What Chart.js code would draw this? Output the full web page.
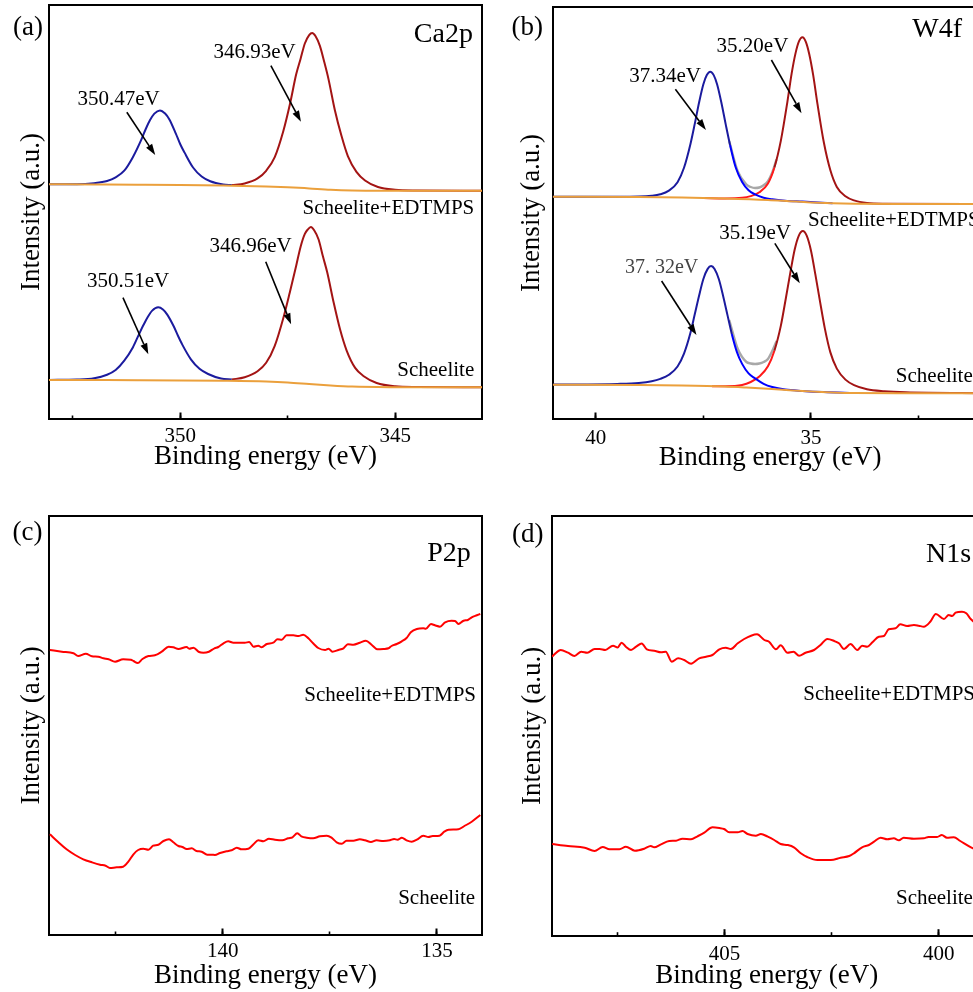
<!DOCTYPE html>
<html><head><meta charset="utf-8">
<script src="https://cdn.jsdelivr.net/npm/chart.js@4.4.1/dist/chart.umd.min.js"></script>
<style>
html,body{margin:0;padding:0;background:#fff;overflow:hidden;width:973px;height:992px;position:relative;}
canvas{position:absolute;}
</style></head><body>
<canvas id="ca" width="490" height="480" style="left:0;top:0;width:490px;height:480px"></canvas>
<canvas id="w" width="500" height="480" style="left:490px;top:0;width:500px;height:480px"></canvas>
<canvas id="p" width="490" height="502" style="left:0;top:490px;width:490px;height:502px"></canvas>
<canvas id="n" width="500" height="502" style="left:490px;top:490px;width:500px;height:502px"></canvas>
<script>
// ---------------- DATA (binding energy in eV, intensity in arbitrary units) ----------------
// (a) Ca2p  -- Scheelite+EDTMPS (top)
const caTopBaseE = [353.05, 352, 351, 350, 349, 348, 347.5, 347, 346.5, 346, 345, 344, 342.98];
const caTopBaseI = [234.7, 234.5, 234.3, 234.0, 233.4, 232.6, 231.8, 230.6, 229.3, 228.6, 228.3, 228.2, 228.2];
const caTopBlueE = [353.05, 352.4, 352.0, 351.7, 351.5, 351.3, 351.1, 350.9, 350.8, 350.7, 350.6, 350.47, 350.35, 350.25, 350.1, 350.0, 349.9, 349.7, 349.5, 349.3, 349.0, 348.8];
const caTopBlueI = [234.8, 234.7, 235.8, 238.0, 241.7, 248.3, 261.8, 279.6, 290.0, 298.9, 305.4, 308.6, 305.5, 299.6, 285.4, 275.0, 266.6, 251.5, 242.5, 237.8, 234.6, 233.9];
const caTopRedE = [348.8, 348.5, 348.2, 348.0, 347.8, 347.6, 347.45, 347.3, 347.2, 347.1, 347.0, 346.93, 346.85, 346.75, 346.65, 346.55, 346.4, 346.25, 346.1, 345.9, 345.7, 345.4, 345.0, 344.5, 342.98];
const caTopRedI = [233.9, 235.5, 240.6, 248.2, 261.9, 288.0, 314.2, 344.9, 360.1, 375.5, 383.9, 386.0, 382.7, 373.1, 357.2, 339.9, 308.5, 283.4, 262.9, 247.2, 238.5, 232.0, 229.2, 228.5, 228.2];
// (a) Ca2p  -- Scheelite (bottom)
const caBotBaseE = [353.05, 352, 351, 350, 349, 348, 347.5, 347, 346.5, 346, 345, 344, 342.98];
const caBotBaseI = [39.0, 38.9, 38.8, 38.6, 38.2, 37.4, 36.5, 35.0, 33.5, 32.4, 31.8, 31.7, 31.7];
const caBotBlueE = [353.05, 352.4, 352.0, 351.7, 351.5, 351.3, 351.1, 350.95, 350.85, 350.75, 350.65, 350.51, 350.4, 350.3, 350.15, 350.05, 349.95, 349.75, 349.55, 349.35, 349.05, 348.8];
const caBotBlueI = [39.1, 39.5, 40.8, 44.3, 49.0, 58.4, 71.6, 85.4, 94.2, 102.2, 108.4, 111.7, 109.5, 104.4, 92.7, 83.2, 74.4, 59.7, 50.2, 45.0, 40.5, 39.5];
const caBotRedE = [348.8, 348.5, 348.2, 348.0, 347.8, 347.6, 347.45, 347.3, 347.2, 347.1, 347.03, 346.96, 346.88, 346.78, 346.68, 346.58, 346.43, 346.28, 346.13, 345.93, 345.73, 345.43, 345.0, 344.5, 342.98];
const caBotRedI = [39.5, 41.8, 47.8, 56.2, 73.2, 101.1, 126.6, 153.6, 172.1, 185.1, 189.6, 191.9, 188.5, 179.5, 162.7, 146.7, 116.5, 89.4, 68.7, 51.1, 42.8, 36.0, 32.7, 32.0, 31.7];

// (b) W4f -- Scheelite+EDTMPS (top)
const wTopBaseE = [41, 39, 38, 37, 36, 35.5, 35, 34.5, 34, 33, 30.9];
const wTopBaseI = [222.3, 222.0, 221.5, 220.5, 219.0, 217.8, 216.6, 215.8, 215.3, 215.0, 215.0];
const wTopBlueE = [41, 39.5, 39.0, 38.7, 38.5, 38.3, 38.1, 37.95, 37.8, 37.7, 37.6, 37.5, 37.42, 37.34, 37.26, 37.18, 37.08, 36.98, 36.88, 36.75, 36.6, 36.45, 36.3, 36.1, 35.9, 35.6, 35.2, 34.5];
const wTopBlueI = [222.3, 222.2, 222.4, 223.2, 224.7, 228.4, 236.8, 251.2, 275.0, 295.1, 316.5, 334.8, 344.0, 347.3, 343.9, 334.5, 316.0, 294.4, 274.0, 251.7, 237.0, 228.7, 224.6, 221.3, 219.7, 218.3, 217.4, 215.8];
const wTopRedE = [37.5, 37.0, 36.6, 36.4, 36.2, 36.0, 35.85, 35.7, 35.55, 35.45, 35.36, 35.28, 35.2, 35.12, 35.04, 34.95, 34.85, 34.7, 34.55, 34.4, 34.2, 34.0, 33.7, 33.3, 30.9];
const wTopRedI = [221.0, 220.6, 221.2, 222.9, 226.7, 235.5, 251.5, 278.4, 316.7, 345.3, 365.6, 377.6, 381.7, 377.2, 364.8, 344.1, 315.1, 276.2, 248.7, 232.1, 222.8, 218.6, 216.0, 215.3, 215.0];
const wTopEnvE = [36.9, 36.7, 36.5, 36.4, 36.3, 36.2, 36.1, 36.0, 35.9, 35.8];
const wTopEnvI = [277.8, 247.5, 234.5, 232.0, 231.0, 231.5, 233.8, 237.8, 246.5, 259.6];
// (b) W4f -- Scheelite (bottom)
const wBotBaseE = [41, 39, 38, 37, 36.5, 36, 35.5, 35, 34.5, 34, 33, 30.9];
const wBotBaseI = [34.3, 34.0, 33.5, 32.5, 31.5, 30.3, 28.8, 27.5, 26.5, 25.9, 25.7, 25.7];
const wBotBlueE = [41, 39.5, 39.0, 38.7, 38.5, 38.3, 38.1, 37.95, 37.8, 37.7, 37.6, 37.5, 37.4, 37.32, 37.24, 37.14, 37.04, 36.94, 36.84, 36.72, 36.6, 36.45, 36.3, 36.1, 35.9, 35.6, 35.2, 34.7, 34.0];
const wBotBlueI = [34.5, 35.1, 36.0, 37.7, 40.1, 44.2, 52.5, 65.4, 86.2, 104.7, 123.3, 140.0, 150.1, 153.0, 150.0, 139.7, 122.8, 103.9, 85.1, 66.9, 55.1, 45.6, 40.6, 35.2, 32.0, 29.5, 28.1, 26.9, 25.9];
const wBotRedE = [37.3, 37.0, 36.6, 36.4, 36.2, 36.0, 35.85, 35.7, 35.58, 35.48, 35.38, 35.28, 35.19, 35.1, 35.0, 34.9, 34.8, 34.68, 34.55, 34.4, 34.2, 34.0, 33.7, 33.3, 32.8, 30.9];
const wBotRedI = [32.8, 32.8, 34.0, 37.0, 42.5, 52.7, 68.3, 93.4, 121.8, 146.4, 169.3, 183.7, 188.0, 183.3, 168.3, 144.9, 119.9, 90.9, 66.6, 50.4, 39.4, 33.9, 29.8, 27.8, 26.7, 25.8];
const wBotEnvE = [36.9, 36.7, 36.5, 36.4, 36.3, 36.2, 36.1, 36.0, 35.9, 35.8];
const wBotEnvI = [99.0, 70.0, 57.0, 55.5, 55.0, 55.5, 57.0, 60.0, 68.0, 78.0];

// (c) P2p
const pTopE = [144.03, 143.75, 143.48, 143.37, 143.19, 143.05, 142.90, 142.78, 142.66, 142.51,
  142.32, 142.14, 142.08, 141.98, 141.87, 141.73, 141.58, 141.42, 141.26, 141.15,
  141.03, 140.84, 140.78, 140.68, 140.55, 140.45, 140.32, 140.19, 140.10, 139.98,
  139.87, 139.75, 139.63, 139.48, 139.38, 139.28, 139.17, 139.09, 138.97, 138.82,
  138.72, 138.62, 138.51, 138.35, 138.23, 138.12, 138.00, 137.89, 137.77, 137.61,
  137.53, 137.44, 137.30, 137.18, 137.08, 136.95, 136.80, 136.66, 136.52, 136.39,
  136.25, 136.13, 136.06, 135.94, 135.82, 135.71, 135.61, 135.47, 135.32, 135.26,
  135.14, 135.05, 134.93, 134.81, 134.66, 134.58, 134.50, 134.38, 134.28, 134.19,
  134.07, 133.99];
const pTopI = [285.0, 283.3, 281.7, 279.0, 281.3, 278.7, 278.3, 276.7, 275.7, 273.3,
  275.7, 275.3, 274.0, 272.0, 276.0, 279.0, 279.7, 283.3, 288.3, 287.7,
  286.0, 288.0, 286.3, 287.3, 283.0, 282.3, 283.3, 286.7, 288.0, 291.7,
  293.7, 292.3, 292.3, 292.3, 293.0, 288.3, 289.3, 287.7, 291.0, 292.3,
  295.7, 295.3, 299.7, 299.7, 299.0, 300.3, 296.7, 291.7, 287.0, 285.0,
  286.3, 283.3, 285.0, 286.7, 290.7, 290.3, 292.3, 294.3, 290.0, 285.7,
  286.0, 286.7, 289.0, 291.0, 293.7, 297.0, 302.7, 306.0, 306.7, 306.3,
  311.0, 309.7, 308.3, 312.7, 314.3, 314.0, 311.0, 314.3, 315.0, 317.7,
  319.7, 321.0];
const pBotE = [144.03, 143.83, 143.64, 143.44, 143.25, 143.05, 142.86, 142.73, 142.63, 142.47,
  142.32, 142.20, 142.08, 141.97, 141.85, 141.73, 141.62, 141.50, 141.38, 141.25,
  141.15, 141.03, 140.94, 140.84, 140.72, 140.61, 140.49, 140.36, 140.26, 140.18,
  140.06, 139.91, 139.79, 139.67, 139.56, 139.40, 139.28, 139.17, 139.05, 138.92,
  138.78, 138.61, 138.47, 138.37, 138.26, 138.15, 138.04, 137.89, 137.73, 137.57,
  137.46, 137.34, 137.22, 137.11, 136.95, 136.80, 136.68, 136.54, 136.41, 136.25,
  136.10, 136.00, 135.92, 135.82, 135.71, 135.59, 135.47, 135.32, 135.20, 135.10,
  134.94, 134.83, 134.73, 134.50, 134.36, 134.19, 133.99];
const pBotI = [100.7, 92.7, 85.7, 80.0, 75.7, 72.7, 70.3, 69.3, 67.0, 67.7,
  68.3, 73.3, 80.7, 85.0, 86.3, 85.3, 89.3, 90.3, 94.0, 95.7,
  92.7, 89.0, 88.0, 86.0, 86.7, 84.0, 83.3, 80.3, 80.3, 80.0,
  82.0, 83.7, 84.7, 87.3, 85.7, 86.3, 90.7, 94.7, 93.7, 96.3,
  95.3, 94.7, 96.7, 97.7, 101.7, 98.3, 97.3, 96.7, 98.7, 99.3,
  97.3, 92.7, 91.3, 94.3, 94.3, 95.7, 94.7, 93.0, 94.7, 94.0,
  94.7, 96.0, 95.3, 97.3, 94.7, 93.3, 95.3, 99.3, 98.0, 99.0,
  99.3, 103.3, 105.3, 105.7, 109.0, 113.3, 120.0];

// (d) N1s
const nTopE = [409.02, 408.96, 408.82, 408.65, 408.50, 408.34, 408.20, 408.03, 407.91, 407.78,
  407.60, 407.49, 407.40, 407.30, 407.18, 407.06, 406.93, 406.81, 406.64, 406.48,
  406.37, 406.23, 406.08, 405.94, 405.78, 405.59, 405.43, 405.28, 405.12, 404.97,
  404.85, 404.69, 404.54, 404.38, 404.24, 404.07, 403.96, 403.80, 403.69, 403.53,
  403.39, 403.26, 403.11, 402.91, 402.76, 402.60, 402.44, 402.33, 402.21, 402.06,
  401.90, 401.79, 401.67, 401.55, 401.40, 401.28, 401.17, 401.01, 400.90, 400.74,
  400.58, 400.47, 400.35, 400.20, 400.07, 399.88, 399.77, 399.69, 399.61, 399.46,
  399.36, 399.25, 399.1, 399.0];
const nTopI = [279.0, 281.7, 285.7, 283.0, 279.7, 284.0, 283.0, 286.7, 286.7, 285.7,
  290.0, 288.3, 293.0, 289.0, 285.7, 289.0, 292.3, 286.3, 285.0, 283.4,
  284.0, 274.0, 277.4, 275.7, 272.0, 277.4, 279.0, 280.7, 286.4, 288.0,
  286.7, 292.4, 296.7, 300.0, 301.4, 295.7, 294.0, 286.4, 290.4, 283.0,
  284.0, 280.0, 283.0, 285.7, 290.7, 296.7, 294.7, 292.4, 286.7, 291.7,
  285.7, 290.0, 289.0, 293.4, 299.0, 299.7, 306.4, 307.4, 311.4, 309.7,
  310.7, 310.0, 309.0, 314.0, 321.7, 316.7, 320.7, 319.7, 323.0, 324.0,
  322.4, 316.4, 311.0, 308.0];
const nBotE = [409.02, 408.65, 408.26, 408.03, 407.84, 407.68, 407.45, 407.30, 407.09, 406.87,
  406.72, 406.64, 406.48, 406.29, 406.13, 405.98, 405.78, 405.63, 405.47, 405.28,
  405.12, 405.01, 404.89, 404.69, 404.58, 404.46, 404.27, 404.15, 403.99, 403.84,
  403.69, 403.53, 403.38, 403.22, 403.07, 402.83, 402.52, 402.29, 402.09, 401.98,
  401.79, 401.63, 401.51, 401.36, 401.20, 401.05, 400.93, 400.82, 400.58, 400.35,
  400.24, 400.04, 399.93, 399.81, 399.65, 399.50, 399.25, 399.1, 399.0];
const nBotI = [91.7, 89.7, 88.0, 84.7, 88.7, 86.4, 86.4, 89.0, 85.0, 87.0,
  89.7, 88.4, 91.4, 94.7, 95.0, 97.0, 96.4, 99.4, 103.0, 108.4,
  107.7, 106.7, 103.4, 103.4, 104.7, 101.7, 100.0, 101.7, 99.0, 95.7,
  91.7, 90.7, 88.4, 82.4, 78.7, 75.7, 75.7, 78.0, 79.7, 82.4,
  88.4, 90.7, 94.0, 98.0, 96.4, 97.4, 95.4, 98.0, 97.0, 97.4,
  98.7, 98.7, 100.7, 98.0, 98.4, 94.7, 88.4, 85.5, 84.5];

// tick values / labels
const majorStep = 5, minorStep = 2.5;
const sampleNames = ['Scheelite+EDTMPS', 'Scheelite'];
const caPeakLabels = ['350.47eV', '346.93eV', '350.51eV', '346.96eV'];
const wPeakLabels = ['37.34eV', '35.20eV', '35.19eV', '37. 32eV'];

// ---------------- RENDERING ----------------
const SERIF = '"Liberation Serif", "Times New Roman", serif';
const ORANGE = '#EBA03C', DBLUE = '#1B1B9E', DRED = '#A31414', BBLUE = '#0000FF', BRED = '#FF1A1A', GREY = '#A8A8A8', PURE_RED = '#FF0000';

function ds(E, I, color, extra) {
  const n = Math.min(E.length, I.length);
  const data = [];
  for (let i = 0; i < n; i++) data.push({x: E[i], y: I[i]});
  return Object.assign({data, borderColor: color, borderWidth: 2, pointRadius: 0, pointHoverRadius: 0,
    fill: false, cubicInterpolationMode: 'monotone'}, extra || {});
}

function arrow(ctx, x1, y1, x2, y2) {
  const a = Math.atan2(y2 - y1, x2 - x1), L = 11, W = 3.6;
  const bx = x2 - L * Math.cos(a), by = y2 - L * Math.sin(a);
  ctx.strokeStyle = '#000'; ctx.fillStyle = '#000'; ctx.lineWidth = 1.6;
  ctx.beginPath(); ctx.moveTo(x1, y1); ctx.lineTo(bx, by); ctx.stroke();
  ctx.beginPath(); ctx.moveTo(x2, y2);
  ctx.lineTo(bx - W * Math.sin(a), by + W * Math.cos(a));
  ctx.lineTo(bx + W * Math.sin(a), by - W * Math.cos(a));
  ctx.closePath(); ctx.fill();
}

function annotPlugin(ann) {
  return {
    id: 'annot',
    afterDraw(chart) {
      const ctx = chart.ctx, xs = chart.scales.x, ys = chart.scales.y;
      ctx.save();
      ann.texts.forEach(t => {
        ctx.font = (t.size || 21) + 'px ' + SERIF;
        ctx.fillStyle = t.color || '#000';
        ctx.textAlign = t.align || 'center';
        ctx.textBaseline = 'middle';
        const px = t.px !== undefined ? t.px : xs.getPixelForValue(t.e);
        const py = t.py !== undefined ? t.py : ys.getPixelForValue(t.v);
        ctx.fillText(t.text, px, py);
      });
      (ann.arrows || []).forEach(a => {
        arrow(ctx, xs.getPixelForValue(a[0]), ys.getPixelForValue(a[1]), xs.getPixelForValue(a[2]), ys.getPixelForValue(a[3]));
      });
      ctx.restore();
    }
  };
}

function makeChart(id, c, datasets, ann) {
  const common = {type: 'linear', min: c.xmin, max: c.xmax, reverse: true};
  const frame = {display: true, color: '#000', width: 2};
  return new Chart(document.getElementById(id), {
    type: 'line',
    data: {datasets},
    plugins: [annotPlugin(ann)],
    options: {
      responsive: false, animation: false, devicePixelRatio: 1, events: [],
      layout: {padding: {top: c.padT, right: c.padR, bottom: 0, left: 0}},
      plugins: {legend: {display: false}, tooltip: {enabled: false}},
      scales: {
        x: Object.assign({}, common, {
          position: 'bottom', weight: 1,
          afterFit: s => { s.height = c.axisH; },
          ticks: {stepSize: majorStep, includeBounds: false, padding: c.tickPad, color: '#000', maxRotation: 0, autoSkip: false,
            font: {family: SERIF, size: 21}, callback: v => String(v)},
          grid: {display: true, drawOnChartArea: false, drawTicks: true, tickLength: -6.5, tickWidth: 2, tickColor: '#000'},
          border: frame,
          title: {display: true, text: 'Binding energy (eV)', color: '#000', font: {family: SERIF, size: 27}, padding: {top: 0, bottom: c.titlePad}}
        }),
        xm: Object.assign({}, common, {
          position: 'bottom', weight: 0,
          afterFit: s => { s.height = 0; },
          ticks: {display: false, stepSize: minorStep, includeBounds: false},
          grid: {display: true, drawOnChartArea: false, drawTicks: true, tickLength: -3.5, tickWidth: 1.6, tickColor: '#000'},
          border: {display: false}
        }),
        xt: Object.assign({}, common, {
          position: 'top',
          afterFit: s => { s.height = 0; },
          ticks: {display: false}, grid: {display: false}, border: frame
        }),
        y: {
          type: 'linear', min: 0, max: c.ymax, position: 'left',
          afterFit: s => { s.width = c.axisW; },
          ticks: {display: false}, grid: {display: false}, border: frame,
          title: {display: true, text: 'Intensity (a.u.)', color: '#000', font: {family: SERIF, size: 27}, padding: {top: c.yTitlePad, bottom: 0}}
        },
        yr: {
          type: 'linear', min: 0, max: c.ymax, position: 'right',
          afterFit: s => { s.width = 0; },
          ticks: {display: false}, grid: {display: false}, border: frame
        }
      }
    }
  });
}

// segment colouring for overlapping components in (b)
const segMid = ctx => (ctx.p0.parsed.x + ctx.p1.parsed.x) / 2;
const blueSeg = split => ({borderColor: ctx => segMid(ctx) < split ? BBLUE : DBLUE});
const redSeg = split => ({borderColor: ctx => segMid(ctx) > split ? BRED : DRED});

// (a)
makeChart('ca',
  {xmin: 342.98, xmax: 353.05, ymax: 414, padT: 5, padR: 8, axisW: 49, axisH: 61, tickPad: 10.9, titlePad: 6.8, yTitlePad: 15.8},
  [
    ds(caTopBaseE, caTopBaseI, ORANGE),
    ds(caBotBaseE, caBotBaseI, ORANGE),
    ds(caTopBlueE, caTopBlueI, DBLUE),
    ds(caTopRedE, caTopRedI, DRED),
    ds(caBotBlueE, caBotBlueI, DBLUE),
    ds(caBotRedE, caBotRedI, DRED)
  ],
  {texts: [
    {text: '(a)', px: 28, py: 28, size: 27},
    {text: 'Ca2p', e: 343.19, v: 384, size: 28, align: 'right'},
    {text: caPeakLabels[0], e: 351.43, v: 320},
    {text: caPeakLabels[1], e: 348.27, v: 367},
    {text: sampleNames[0], e: 343.16, v: 210.7, align: 'right'},
    {text: caPeakLabels[2], e: 351.21, v: 137.3},
    {text: caPeakLabels[3], e: 348.36, v: 172.3},
    {text: sampleNames[1], e: 343.16, v: 49, align: 'right'}
  ], arrows: [
    [351.24, 306.7, 350.58, 264],
    [347.89, 353.3, 347.19, 297.3],
    [351.33, 121.3, 350.74, 64.7],
    [348.01, 157.3, 347.42, 94.7]
  ]});

// (b)
makeChart('w',
  {xmin: 30.9, xmax: 41, ymax: 412, padT: 7, padR: 2.5, axisW: 62.7, axisH: 61, tickPad: 13.2, titlePad: 5.8, yTitlePad: 25.5},
  [
    ds(wTopBaseE, wTopBaseI, ORANGE),
    ds(wBotBaseE, wBotBaseI, ORANGE),
    ds(wTopBlueE, wTopBlueI, DBLUE, {segment: blueSeg(36.85)}),
    ds(wTopRedE, wTopRedI, DRED, {segment: redSeg(35.82)}),
    ds(wBotBlueE, wBotBlueI, DBLUE, {segment: blueSeg(36.85)}),
    ds(wBotRedE, wBotRedI, DRED, {segment: redSeg(35.82)}),
    ds(wTopEnvE, wTopEnvI, GREY, {borderWidth: 2.4}),
    ds(wBotEnvE, wBotEnvI, GREY, {borderWidth: 2.4})
  ],
  {texts: [
    {text: '(b)', px: 37.3, py: 28, size: 27},
    {text: 'W4f', e: 31.49, v: 389, size: 28, align: 'right'},
    {text: wPeakLabels[0], e: 38.39, v: 342.3},
    {text: wPeakLabels[1], e: 36.36, v: 372.3},
    {text: sampleNames[0], e: 35.07, v: 199, align: 'left'},
    {text: wPeakLabels[2], e: 36.30, v: 185.7},
    {text: wPeakLabels[3], e: 38.47, v: 151.3, color: '#444', size: 20},
    {text: sampleNames[1], e: 33.03, v: 42.3, align: 'left'}
  ], arrows: [
    [38.15, 329.7, 37.44, 289],
    [35.92, 359, 35.22, 305.7],
    [35.84, 175.7, 35.26, 135.7],
    [38.47, 138, 37.66, 84]
  ]});

// (c)
makeChart('p',
  {xmin: 133.95, xmax: 144.05, ymax: 419.3, padT: 25.7, padR: 8, axisW: 49, axisH: 57, tickPad: 10.6, titlePad: 0, yTitlePad: 15.5},
  [
    ds(pTopE, pTopI, PURE_RED),
    ds(pBotE, pBotI, PURE_RED)
  ],
  {texts: [
    {text: '(c)', px: 27.5, py: 43.3, size: 27},
    {text: 'P2p', e: 134.21, v: 381, size: 28, align: 'right'},
    {text: sampleNames[0], e: 134.09, v: 239.3, align: 'right'},
    {text: sampleNames[1], e: 134.11, v: 36.7, align: 'right'}
  ]});

// (d)
makeChart('n',
  {xmin: 399.0, xmax: 409.03, ymax: 419.7, padT: 26, padR: 8.3, axisW: 61.7, axisH: 56.3, tickPad: 12.2, titlePad: 0, yTitlePad: 26.5},
  [
    ds(nTopE, nTopI, PURE_RED),
    ds(nBotE, nBotI, PURE_RED)
  ],
  {texts: [
    {text: '(d)', px: 37.8, py: 45, size: 27},
    {text: 'N1s', e: 400.3, v: 380.7, size: 28, align: 'left'},
    {text: sampleNames[0], e: 403.16, v: 241.4, align: 'left'},
    {text: sampleNames[1], e: 401.0, v: 37.4, align: 'left'}
  ]});
</script>
</body></html>
